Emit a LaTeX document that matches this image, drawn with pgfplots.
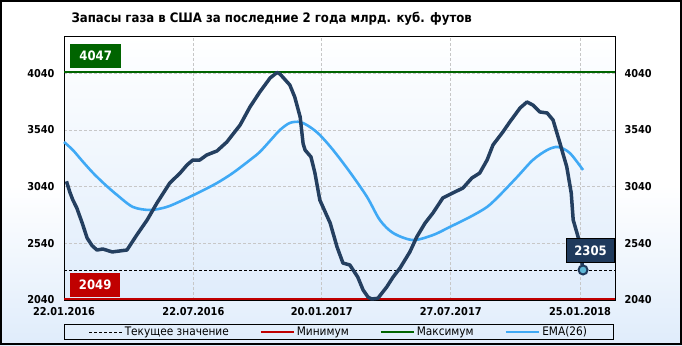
\documentclass[border=0pt]{standalone}
\usepackage{fontspec}
\setmainfont{DejaVu Sans Condensed}
\usepackage{pgfplots}
\pgfplotsset{compat=1.18}
\definecolor{navy}{HTML}{243F60}
\definecolor{emablue}{HTML}{3FA9F5}
\definecolor{maxgreen}{HTML}{006400}
\definecolor{minred}{HTML}{C00000}
\definecolor{bgblue}{HTML}{DFECFB}
\definecolor{markfill}{HTML}{5FB8D6}
\definecolor{boxnavy}{HTML}{1F3A5C}
\begin{document}
\begin{tikzpicture}[x=1bp,y=1bp]
\fill[white] (0,0) rectangle (682,345);
\shade[top color=white,bottom color=bgblue] (0,0) rectangle (682,160);
\node[anchor=west,font=\bfseries\fontsize{13.1}{14}\selectfont] at (68,326) {Запасы газа в США за последние 2 года млрд. куб. футов};
\begin{axis}[
  at={(64bp,45bp)}, anchor=south west, scale only axis,
  width=551bp, height=264bp,
  xmin=0, xmax=112, ymin=2040, ymax=4369,
  axis background/.style={shade, top color=white, middle color=white, bottom color=bgblue},
  axis line style={black, line width=0.8bp},
  xtick={0,26.3,52.4,78.6,104.9},
  xticklabels={22.01.2016,22.07.2016,20.01.2017,27.07.2017,25.01.2018},
  ytick={2040,2540,3040,3540,4040},
  major tick length=0,
  xmajorgrids, ymajorgrids,
  grid style={densely dashed, color=black!22, line width=0.6bp},
  tick label style={font=\bfseries\fontsize{10.9}{12}\selectfont},
  /pgf/number format/assume math mode=true,
  /pgf/number format/set thousands separator={},
  yticklabel style={xshift=-6bp},
  xticklabel style={yshift=-3.5bp},
  clip=false,
  legend columns=4,
  legend style={at={(0.499,-0.0909)}, anchor=north, draw=black, fill=none, line width=0.8bp,
    font=\fontsize{11.8}{13}\selectfont, inner ysep=0.5bp, inner xsep=24bp,
    /tikz/every even column/.append style={column sep=29bp}},
  legend image code/.code={\draw[#1] (0bp,0bp) -- (33bp,0bp);},
]
\addplot[black, line width=0.9bp, dash pattern=on 3bp off 2bp] coordinates {(0,2305) (112,2305)};
\addlegendentry{Текущее значение}
\addplot[minred, line width=2bp] coordinates {(0,2049) (112,2049)};
\addlegendentry{Минимум}
\addplot[maxgreen, line width=2bp] coordinates {(0,4047) (112,4047)};
\addlegendentry{Максимум}
\addplot[emablue, line width=2.6bp, smooth] coordinates {
(0,3434) (1.8,3363) (3.8,3262) (5.9,3161) (8.3,3060) (10.8,2966) (14,2861) (17.5,2834)
(20.9,2861) (24.2,2922) (27.6,2993) (31.1,3072) (34.3,3160) (37.8,3275) (39.8,3346)
(42,3450) (43.9,3540) (45.9,3602) (48,3610) (50,3566) (52,3496) (54.7,3363) (58.1,3169)
(61.6,2949) (64.2,2746) (66.9,2631) (70.9,2569) (75,2613) (78.4,2684) (82.5,2772)
(86,2861) (88.6,2966) (92.1,3125) (95.3,3275) (98.2,3363) (100.4,3390) (102.8,3337) (105.5,3187)};
\addlegendentry{EMA(26)}
\addplot[navy, line width=3.5bp, line join=round, forget plot] coordinates {
(0.5,3087) (1.2,2990) (1.8,2922) (2.6,2852) (3.7,2719) (4.7,2587) (5.7,2520) (6.7,2481) (7.9,2490)
(9.8,2464) (12.8,2481) (14.8,2614) (16.9,2746) (18.9,2896) (21.5,3072) (23.6,3160)
(25,3231) (26.2,3275) (27.6,3275) (29,3319) (31.1,3355) (33.1,3434) (35.8,3584)
(37.8,3743) (39.8,3875) (41.9,3999) (43.3,4047) (43.9,4034) (45.9,3937) (46.9,3831)
(48,3655) (48.6,3420) (49,3363) (50.2,3302) (51,3161) (52,2922) (54.1,2719) (55.5,2508)
(56.7,2366) (58.1,2349) (59.7,2243) (60.8,2128) (61.8,2066) (62.5,2049) (63.8,2055)
(65.6,2155) (66.9,2243) (68.3,2322) (70.3,2464) (71.7,2596) (73.4,2719) (75,2808)
(77,2940) (79,2984) (81.1,3028) (82.9,3116) (84.5,3160) (86,3275) (87.2,3408)
(89.2,3522) (90.6,3610) (92.7,3734) (94.1,3787) (95.3,3760) (96.7,3699) (98.2,3690)
(99.4,3628) (100.8,3425) (102.2,3213) (103.1,2984) (103.5,2746) (104.5,2596) (105.5,2305)};
\addplot[only marks, mark=*, mark size=4.5bp, mark options={fill=markfill, draw=boxnavy, line width=2bp}, forget plot] coordinates {(105.5,2305)};
\node[anchor=north west, fill=maxgreen, text=white, font=\bfseries\fontsize{13}{14}\selectfont,
  minimum width=51bp, minimum height=24bp, inner sep=0pt] at (rel axis cs:0.0109,0.970) {4047};
\node[anchor=north west, fill=minred, text=white, font=\bfseries\fontsize{13}{14}\selectfont,
  minimum width=50bp, minimum height=24bp, inner sep=0pt] at (rel axis cs:0.0109,0.102) {2049};
\node[anchor=north west, fill=boxnavy, draw=black, line width=1.2bp, text=white, font=\bfseries\fontsize{13}{14}\selectfont,
  minimum width=48bp, minimum height=24bp, inner sep=0pt] at (rel axis cs:0.911,0.235) {2305};
\end{axis}
\begin{axis}[
  at={(64bp,45bp)}, anchor=south west, scale only axis,
  width=551bp, height=264bp,
  xmin=0, xmax=112, ymin=2040, ymax=4369,
  hide x axis, axis y line*=right,
  axis line style={black, line width=0.8bp},
  ytick={2040,2540,3040,3540,4040},
  major tick length=0,
  tick label style={font=\bfseries\fontsize{10.9}{12}\selectfont},
  /pgf/number format/assume math mode=true,
  /pgf/number format/set thousands separator={},
  yticklabel style={xshift=6bp},
]
\addplot[draw=none] coordinates {(0,2040)};
\end{axis}
\draw[line width=1.6bp] (0.8,0.8) rectangle (681.2,344.2);
\end{tikzpicture}
\end{document}
